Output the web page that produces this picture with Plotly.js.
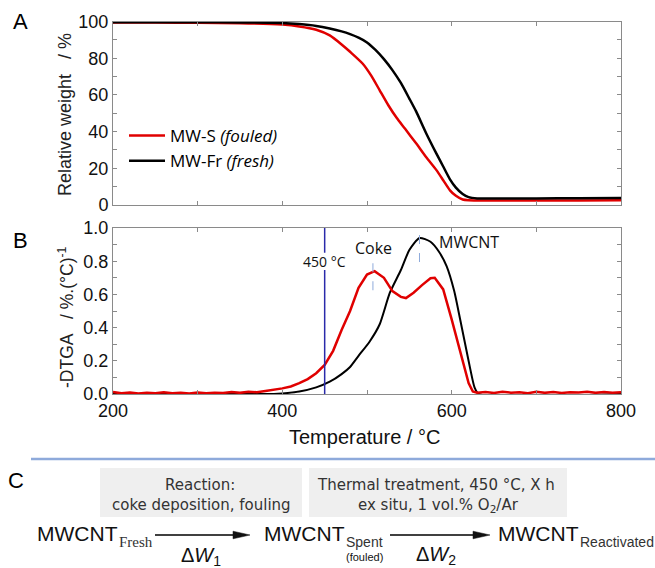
<!DOCTYPE html>
<html><head><meta charset="utf-8">
<script src="https://cdn.plot.ly/plotly-3.0.1.min.js"></script>
<style>html,body{margin:0;padding:0;background:#fff}#chart{width:655px;height:568px}</style>
</head><body><div id="chart"></div>
<script>
// ---- data ----
const tgaTempFouled = [200,250,300,350,400,420,440,456,470,480,495,505,515,525,535,545,558,570,582,590,598,605,613,620,630,650,700,750,800];
const tgaFouled     = [99.5,99.4,99.3,99.1,98.3,97.3,95.5,92.4,87.5,83.5,77,70.5,62.5,54.5,47.5,41.5,33.6,26,19,13.5,8,5,3,2.6,2.5,2.5,2.5,2.5,2.6];
const tgaTempFresh  = [200,300,350,400,420,440,456,470,480,490,500,510,520,530,540,550,558,570,582,590,598,605,613,620,630,650,700,750,800];
const tgaFresh      = [99.6,99.6,99.5,99.2,98.6,97.6,96.2,94.6,93.1,91.2,88.6,84.5,79.5,73.5,66.5,58,51,39,28,21,14,9.5,6,4.3,3.6,3.5,3.6,3.7,3.8];

const dtgaTempFouled = [200,210,220,230,240,250,260,270,280,290,300,310,320,330,340,350,360,370,380,390,400,410,420,430,440,450,460,470,480,490,500,509,520,530,540,546,555,565,575,580,590,600,610,620,625,630,640,650,660,670,680,690,700,710,720,730,740,750,760,770,780,790,800];
const dtgaFouled     = [0.012,0.004,0.009,0.003,0.008,0.005,0.011,0.004,0.007,0.003,0.009,0.004,0.008,0.006,0.012,0.007,0.013,0.011,0.018,0.025,0.034,0.045,0.065,0.09,0.125,0.175,0.26,0.386,0.5,0.64,0.72,0.74,0.70,0.62,0.585,0.578,0.61,0.656,0.697,0.70,0.63,0.45,0.25,0.066,0.015,0.008,0.012,0.006,0.014,0.008,0.01,0.005,0.013,0.007,0.012,0.006,0.011,0.009,0.013,0.007,0.012,0.008,0.01];

const dtgaTempFresh = [200,390,400,420,440,456,470,480,490,503,515,527,540,550,562,575,585,594,603,610,616,622,627,632,800];
const dtgaFresh     = [0,0,0.003,0.015,0.04,0.074,0.12,0.163,0.23,0.315,0.42,0.61,0.747,0.867,0.94,0.917,0.857,0.77,0.62,0.45,0.3,0.15,0.04,0,0];

const seriesNames = ['MW-S <i>(fouled)</i>', 'MW-Fr <i>(fresh)</i>'];
const seriesColors = ['#e00000', '#000000'];
const xTickVals = [200,400,600,800];
const markerLine450 = 450, cokePeak = 507, cntPeak = 562;

// ---- layout helpers (pixel positions -> paper) ----
const W = 655, H = 568;
const px = x => x / W, py = y => 1 - y / H;
const AX = '#8a8a8a';
const tickFont = {family:'Liberation Sans, Arial, sans-serif', size:18, color:'#111'};
const cal = 'Open Sans, sans-serif';
const arial = 'Liberation Sans, Arial, sans-serif';

function axisBase(extra){
  return Object.assign({showline:true, linecolor:AX, linewidth:1, mirror:'ticks', ticks:'inside', ticklen:4,
    tickcolor:AX, showgrid:false, zeroline:false, tickfont:tickFont, fixedrange:true}, extra);
}

const traces = [
  {x:tgaTempFouled, y:tgaFouled, xaxis:'x', yaxis:'y', mode:'lines', name:seriesNames[0], line:{color:seriesColors[0], width:2.5, shape:'spline', smoothing:0.6}},
  {x:tgaTempFresh,  y:tgaFresh,  xaxis:'x', yaxis:'y', mode:'lines', name:seriesNames[1], line:{color:seriesColors[1], width:2.5, shape:'spline', smoothing:0.6}},
  {x:dtgaTempFresh, y:dtgaFresh, xaxis:'x2', yaxis:'y2', mode:'lines', showlegend:false, line:{color:seriesColors[1], width:2, shape:'spline', smoothing:0.6}},
  {x:dtgaTempFouled, y:dtgaFouled, xaxis:'x2', yaxis:'y2', mode:'lines', showlegend:false, line:{color:seriesColors[0], width:2.5}}
];

function ann(x, y, text, o){ return Object.assign({xref:'paper', yref:'paper', x:px(x), y:py(y), text, showarrow:false, xanchor:'center', yanchor:'middle'}, o||{}); }

const big = {family:arial, size:21, color:'#111'};
const sub = {family:arial, size:14, color:'#333'};
const boxF = {family:'DejaVu Sans, sans-serif', size:15, color:'#333'};

const annotations = [
  ann(20, 22, 'A', {font:{family:arial, size:22, color:'#000'}}),
  ann(20, 240, 'B', {font:{family:arial, size:22, color:'#000'}}),
  ann(16, 480, 'C', {font:{family:arial, size:22, color:'#000'}}),
  ann(65, 115, 'Relative weight\u00a0\u00a0\u00a0/ %', {textangle:-90, font:{family:arial, size:18, color:'#222'}}),
  ann(66, 317, '-DTGA\u00a0\u00a0\u00a0/ %.(°C)<sup>-1</sup>', {textangle:-90, font:{family:arial, size:17.5, color:'#222'}}),
  ann(364, 437, 'Temperature / °C', {font:{family:arial, size:20, color:'#111'}}),
  // DTGA labels (data coords)
  {xref:'x2', yref:'y2', x:markerLine450, y:0.80, text:'450 °C', showarrow:false, xanchor:'center', yanchor:'middle', font:{family:cal, size:14, color:'#111'}},
  {xref:'x2', yref:'y2', x:cokePeak+1, y:0.88, text:'Coke', showarrow:false, xanchor:'center', yanchor:'middle', font:{family:cal, size:16, color:'#111'}},
  {xref:'x2', yref:'y2', x:621, y:0.916, text:'MWCNT', showarrow:false, xanchor:'center', yanchor:'middle', font:{family:cal, size:16, color:'#111'}},
  // panel C
  ann(200, 485, 'Reaction:', {font:boxF}),
  ann(201, 505, 'coke deposition, fouling', {font:boxF}),
  ann(436, 485, 'Thermal treatment, 450 °C, X h', {font:boxF}),
  ann(438, 505, 'ex situ, 1 vol.% O<sub>2</sub>/Ar', {font:boxF}),
  ann(35, 533, 'MWCNT', {xanchor:'left', font:big}),
  ann(117, 542, 'Fresh', {xanchor:'left', font:{family:'Liberation Serif, serif', size:15, color:'#333'}}),
  ann(262, 533, 'MWCNT', {xanchor:'left', font:big}),
  ann(344, 542, 'Spent', {xanchor:'left', font:sub}),
  ann(364, 557, '(fouled)', {font:{family:arial, size:11, color:'#111'}}),
  ann(496, 533, 'MWCNT', {xanchor:'left', font:big}),
  ann(578, 542, 'Reactivated', {xanchor:'left', font:sub}),
  ann(201, 556, 'Δ<i>W</i><sub>1</sub>', {font:{family:arial, size:20, color:'#111'}}),
  ann(436, 555, 'Δ<i>W</i><sub>2</sub>', {font:{family:arial, size:20, color:'#111'}})
];

function arrowShapes(x0, x1, y){
  const L = 17, h = 3.8;
  return [
    {type:'line', xref:'paper', yref:'paper', x0:px(x0), x1:px(x1-L+2), y0:py(y), y1:py(y), line:{color:'#000', width:1.3}},
    {type:'path', xref:'paper', yref:'paper', path:`M ${px(x1-L)},${py(y-h)} L ${px(x1)},${py(y)} L ${px(x1-L)},${py(y+h)} Z`, fillcolor:'#111', line:{color:'#111', width:0.5}}
  ];
}

const shapes = [
  {type:'line', xref:'x2', yref:'y2', x0:markerLine450, x1:markerLine450, y0:0, y1:0.747, line:{color:'#2a2aaa', width:1.5}},
  {type:'line', xref:'x2', yref:'y2', x0:markerLine450, x1:markerLine450, y0:0.851, y1:1, line:{color:'#2a2aaa', width:1.5}},
  {type:'line', xref:'x2', yref:'y2', x0:cokePeak, x1:cokePeak, y0:0.625, y1:0.82, line:{color:'#8eaadb', width:1, dash:'dash'}},
  {type:'line', xref:'x2', yref:'y2', x0:cntPeak, x1:cntPeak, y0:0.795, y1:0.985, line:{color:'#8eaadb', width:1, dash:'dash'}},
  {type:'line', xref:'paper', yref:'paper', x0:px(31), x1:px(655), y0:py(459), y1:py(459), line:{color:'#8eaadb', width:2.5}},
  {type:'rect', xref:'paper', yref:'paper', x0:px(100), x1:px(302), y0:py(517), y1:py(468), fillcolor:'#efefef', line:{width:0}, layer:'below'},
  {type:'rect', xref:'paper', yref:'paper', x0:px(309), x1:px(567), y0:py(517), y1:py(468), fillcolor:'#efefef', line:{width:0}, layer:'below'}
].concat(arrowShapes(155, 250, 535), arrowShapes(390, 490, 535));

const layout = {
  width:W, height:H, margin:{l:0, r:0, t:0, b:0}, paper_bgcolor:'#fff', plot_bgcolor:'rgba(0,0,0,0)',
  showlegend:true,
  legend:{x:px(124), y:py(118), xanchor:'left', yanchor:'top', bgcolor:'rgba(0,0,0,0)', itemwidth:36, font:{family:cal, size:17, color:'#000'}, tracegroupgap:0},
  xaxis: axisBase({domain:[px(113), px(621)], range:[200,800], anchor:'y', tickvals:xTickVals, showticklabels:false,
    minor:{dtick:100, tick0:200, ticks:'inside', ticklen:4, tickcolor:AX}}),
  yaxis: axisBase({domain:[py(205), py(21.5)], range:[0,100], anchor:'x', dtick:20,
    minor:{dtick:10, ticks:'inside', ticklen:4, tickcolor:AX}}),
  xaxis2: axisBase({domain:[px(113), px(621)], range:[200,800], anchor:'y2', tickvals:xTickVals,
    minor:{dtick:100, tick0:200, ticks:'inside', ticklen:4, tickcolor:AX}}),
  yaxis2: axisBase({domain:[py(394), py(228)], range:[0,1], anchor:'x2', dtick:0.2, tickformat:'.1f',
    minor:{dtick:0.1, ticks:'inside', ticklen:4, tickcolor:AX}}),
  annotations, shapes
};

Plotly.newPlot('chart', traces, layout, {displayModeBar:false, staticPlot:true});
</script>
</body></html>
